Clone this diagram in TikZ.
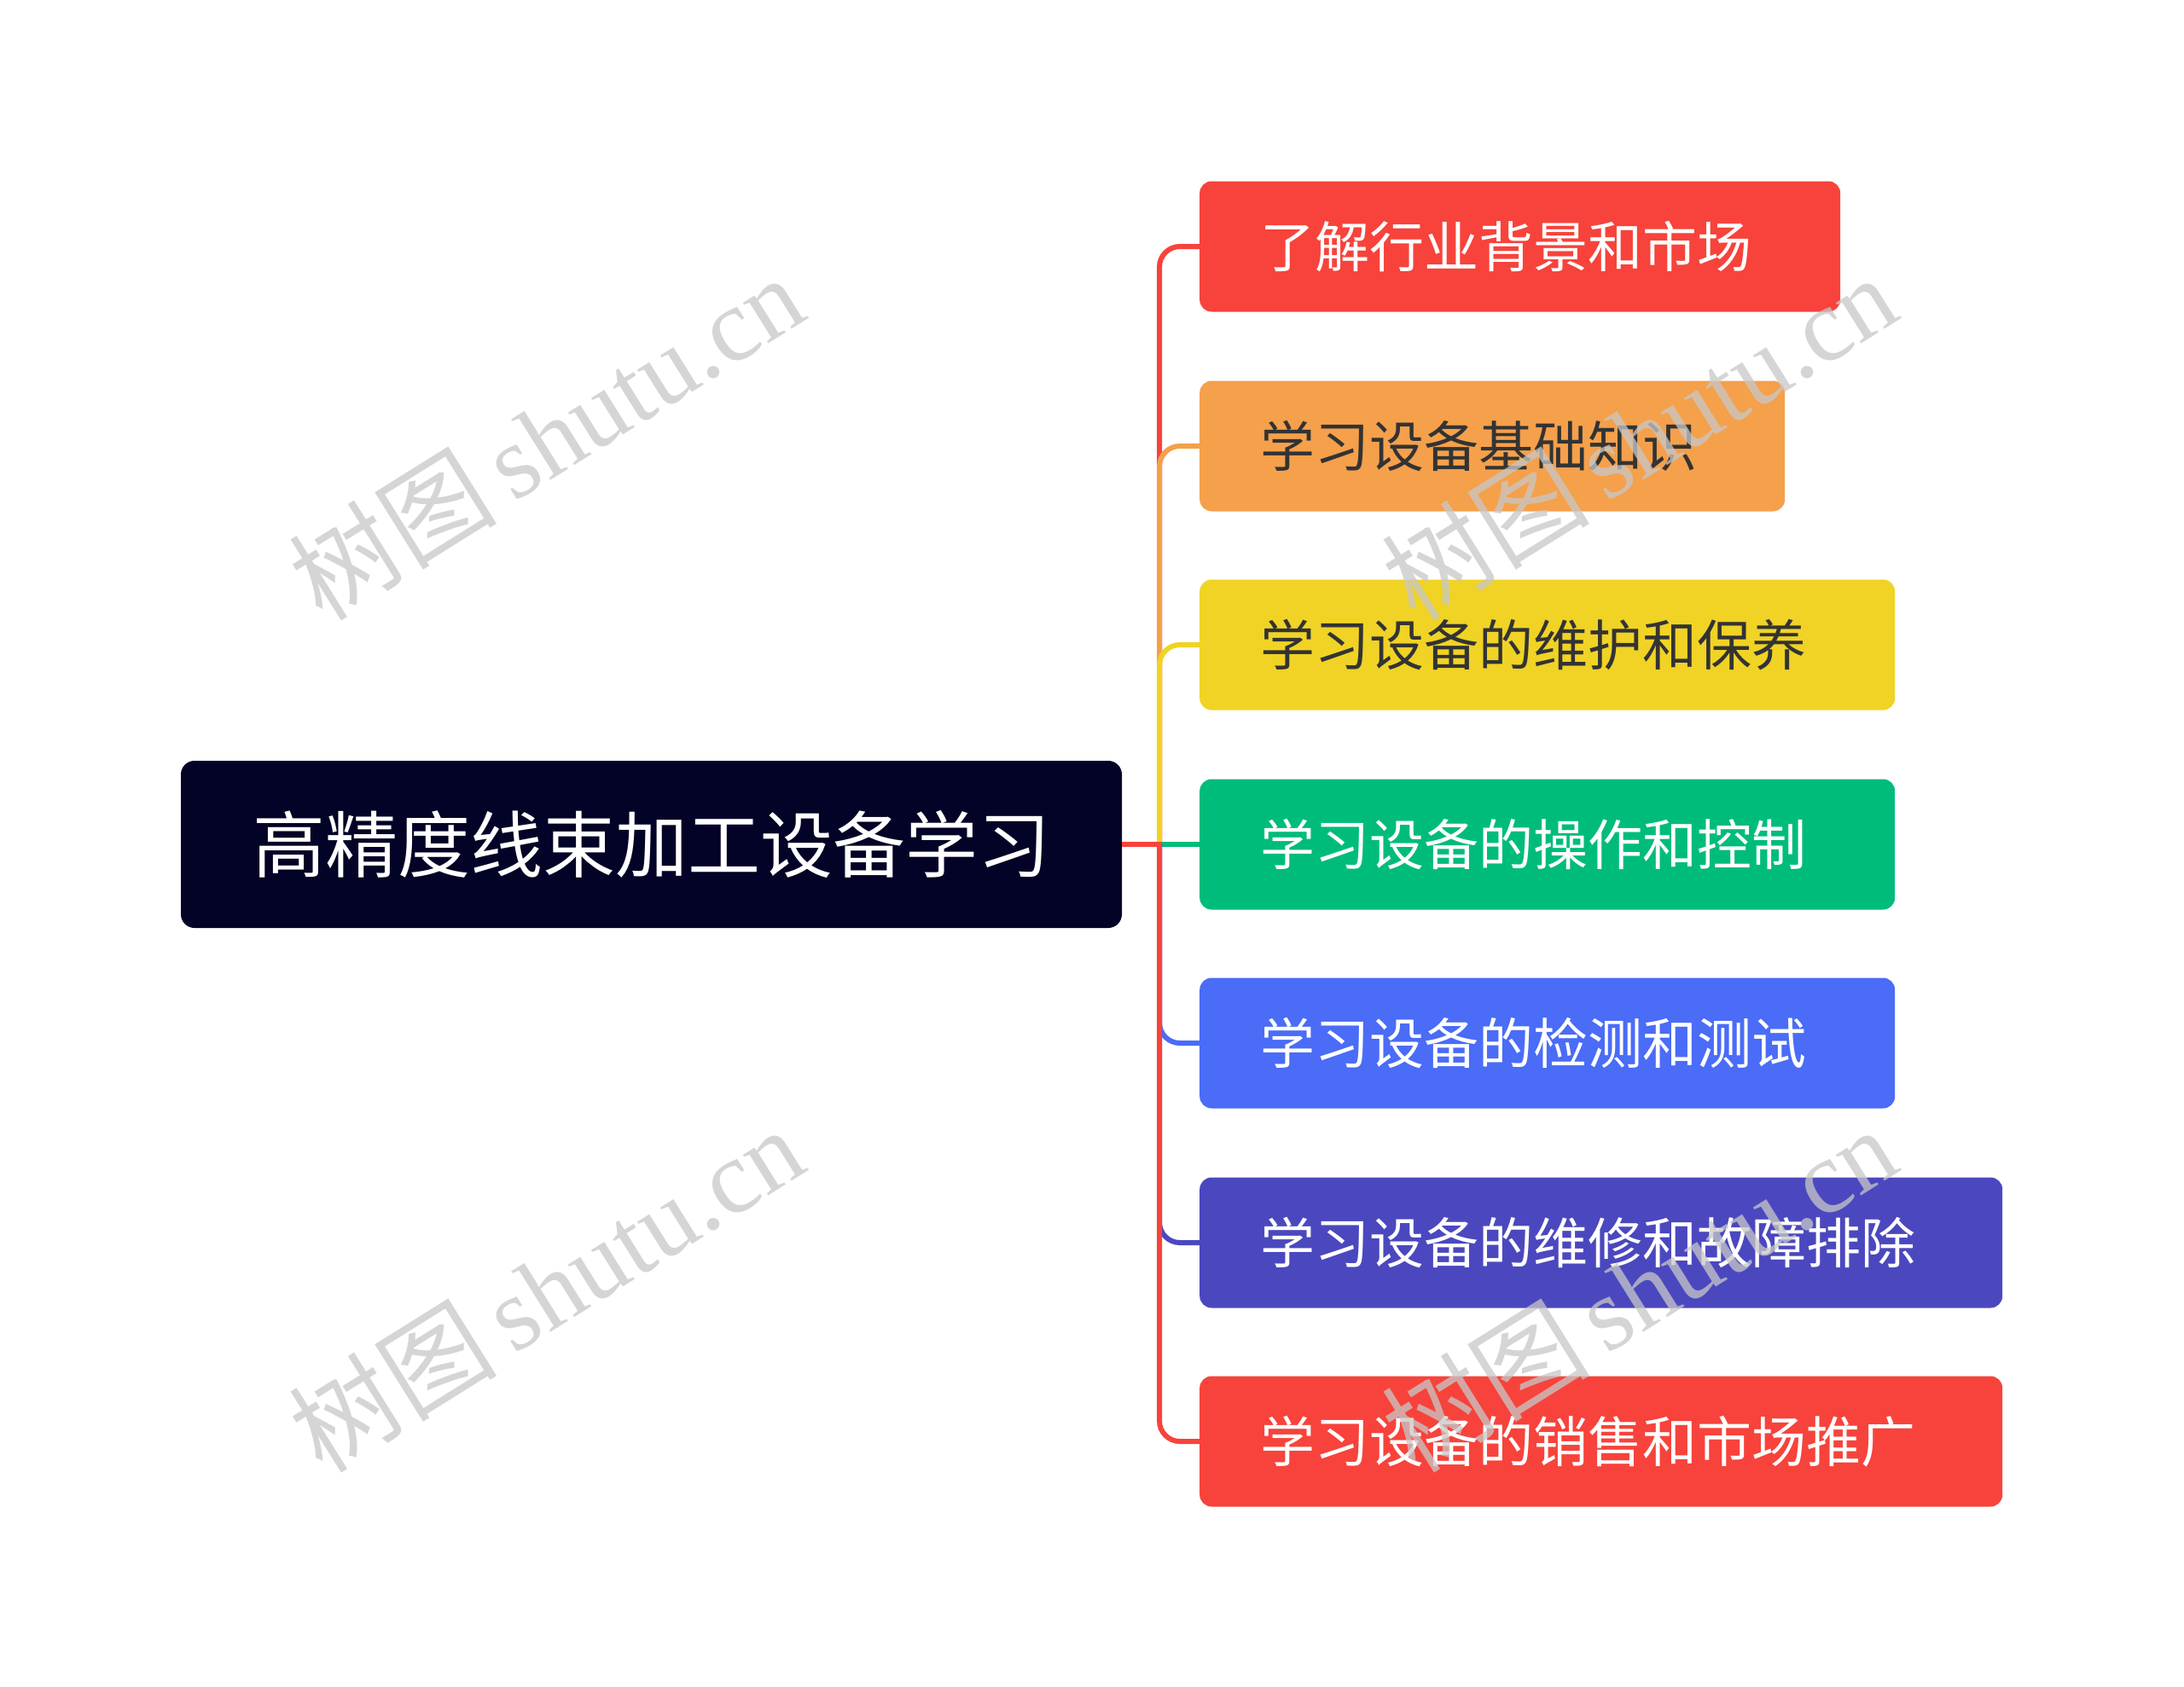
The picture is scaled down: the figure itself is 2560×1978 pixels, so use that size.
\documentclass[tikz,border=0pt]{standalone}
\usepackage{fontspec}
\newfontfamily\cjk{Noto Sans CJK SC}
\newfontfamily\wmserif{Liberation Serif}
\definecolor{rootc}{HTML}{020326}
\definecolor{cred}{HTML}{F7433B}
\definecolor{corange}{HTML}{F5A04B}
\definecolor{cyellow}{HTML}{F0D325}
\definecolor{cgreen}{HTML}{00BC7B}
\definecolor{cblue}{HTML}{4A6CF7}
\definecolor{cindigo}{HTML}{4B48BF}
\definecolor{darktext}{HTML}{333333}
\definecolor{wmgray}{HTML}{C8C8C8}
\begin{document}
\begin{tikzpicture}[x=1pt,y=-1pt,
  rootbox/.style={fill=rootc, rounded corners=16pt, minimum width=1103pt, minimum height=196pt,
    inner sep=0pt, text=white, font=\cjk\fontsize{85}{90}\selectfont},
  childbox/.style={rounded corners=14pt, minimum height=153pt, inner xsep=71pt, inner ysep=0pt,
    align=left, anchor=west, font=\cjk\fontsize{64}{70}\selectfont},
  link/.style={line width=6pt, rounded corners=24pt},
  wm/.style={text=wmgray, opacity=0.75, rotate=32, inner sep=0pt}
]
\useasboundingbox (0,0) rectangle (2560,1978);
\fill[white] (0,0) rectangle (2560,1978);

\node[rootbox] (root) at (763.5,990) {高精度线束加工设备学习};

\node[childbox, fill=cred, text=white, text width=751pt-142pt] (c1) at (1406,289) {了解行业背景和市场};
\node[childbox, fill=corange, text=darktext, text width=686pt-142pt] (c2) at (1406,523) {学习设备基础知识};
\node[childbox, fill=cyellow, text=darktext, text width=815pt-142pt] (c3) at (1406,756) {学习设备的维护和保养};
\node[childbox, fill=cgreen, text=white, text width=815pt-142pt] (c4) at (1406,990) {学习设备的操作和控制};
\node[childbox, fill=cblue, text=white, text width=815pt-142pt] (c5) at (1406,1223) {学习设备的检测和测试};
\node[childbox, fill=cindigo, text=white, text width=941pt-142pt] (c6) at (1406,1457) {学习设备的维修和故障排除};
\node[childbox, fill=cred, text=white, text width=941pt-142pt] (c7) at (1406,1690) {学习设备的销售和市场推广};

\coordinate (tj) at (1359,990);

\draw[link, cred] (tj) |- (c1.west);
\draw[link, corange] (tj) |- (c2.west);
\draw[link, cyellow] (tj) |- (c3.west);
\draw[link, cgreen] (tj) -- (c4.west);
\draw[link, cblue] (tj) |- (c5.west);
\draw[link, cindigo] (tj) |- (c6.west);
\draw[link, cred] (tj) |- (c7.west);
\draw[line width=6pt, cred] (root.east) -- ([xshift=3pt]tj);

\node[wm] (w1) at (640,512) {\cjk\fontsize{122}{124}\selectfont 树图\,\wmserif shutu.cn};
\node[wm] (w2) at (1921,512) {\cjk\fontsize{122}{124}\selectfont 树图\,\wmserif shutu.cn};
\node[wm] (w3) at (640,1511) {\cjk\fontsize{122}{124}\selectfont 树图\,\wmserif shutu.cn};
\node[wm] (w4) at (1921,1511) {\cjk\fontsize{122}{124}\selectfont 树图\,\wmserif shutu.cn};
\end{tikzpicture}
\end{document}
